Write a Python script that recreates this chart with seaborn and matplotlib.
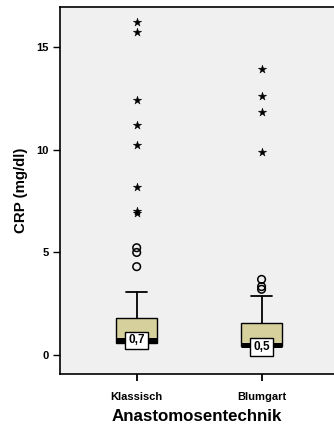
import numpy as np
import pandas as pd
import matplotlib
matplotlib.use("Agg")
import matplotlib.pyplot as plt
import seaborn as sns

# Daten
gruppen = ["Klassisch", "Blumgart"]
median = [0.72, 0.52]
q1 = [0.58, 0.43]
q3 = [1.80, 1.56]
whisker_oben = [3.09, 2.90]
median_text = ["0,7", "0,5"]
median_text_y = [0.72, 0.40]

ausreisser_kreis = {
    "Klassisch": [5.23, 5.00, 4.31],
    "Blumgart": [3.69, 3.34, 3.21],
}
extrem_stern = {
    "Klassisch": [16.22, 15.73, 12.41, 11.20, 10.22, 8.20, 7.03, 6.90],
    "Blumgart": [13.92, 12.61, 11.82, 9.90],
}

sns.set_style("ticks", {"axes.facecolor": "#F0F0F0", "axes.edgecolor": "black",
                        "text.color": "black", "axes.labelcolor": "black",
                        "xtick.color": "black", "ytick.color": "black"})
plt.rcParams["font.family"] = ["Liberation Sans", "DejaVu Sans"]
plt.rcParams["font.weight"] = "bold"

fig = plt.figure(figsize=(3.34, 4.25), dpi=100)
ax = fig.add_axes([60 / 334, 51 / 425, 1 - 60 / 334, 366.7 / 425])

stats = []
for i, g in enumerate(gruppen):
    stats.append({
        "label": g, "med": median[i], "q1": q1[i], "q3": q3[i],
        "whislo": q1[i], "whishi": whisker_oben[i], "fliers": [],
    })

ax.bxp(stats, positions=range(len(gruppen)), widths=0.325, patch_artist=True,
       showfliers=False, capwidths=0.165,
       boxprops=dict(facecolor="#D5D09C", edgecolor="black", linewidth=1.0),
       medianprops=dict(color="black", linewidth=3.6, solid_capstyle="butt"),
       whiskerprops=dict(color="black", linewidth=1.3),
       capprops=dict(color="black", linewidth=1.3))

kreis_df = pd.DataFrame([(gruppen.index(g), v) for g in gruppen for v in ausreisser_kreis[g]],
                        columns=["pos", "crp"])
stern_df = pd.DataFrame([(gruppen.index(g), v) for g in gruppen for v in extrem_stern[g]],
                        columns=["pos", "crp"])

sns.scatterplot(data=kreis_df, x="pos", y="crp", ax=ax, marker="o", s=30,
                facecolor="none", edgecolor="black", linewidth=1.1, zorder=4)
sns.scatterplot(data=stern_df, x="pos", y="crp", ax=ax, marker="*", s=40,
                color="black", edgecolor="black", linewidth=0.3, zorder=4)

for i, t in enumerate(median_text):
    ax.text(i, median_text_y[i], t, ha="center", va="center", fontsize=8.5,
            fontweight="bold", color="black", zorder=6,
            bbox=dict(boxstyle="square,pad=0.25", facecolor="white",
                      edgecolor="black", linewidth=1.0))

ax.set_xlim(-0.614, 1.58)
ax.set_ylim(-0.91, 16.92)
ax.set_xticks(range(len(gruppen)))
ax.set_xticklabels(gruppen, fontsize=8, fontweight="bold")
ax.set_yticks([0, 5, 10, 15])
ax.set_yticklabels(["0", "5", "10", "15"], fontsize=8, fontweight="bold")
ax.tick_params(axis="y", length=5, width=1.0, pad=3, colors="black")
ax.tick_params(axis="x", length=5, width=1.3, pad=8, colors="black")

ax.set_xlabel("Anastomosentechnik", fontsize=12.2, fontweight="bold", labelpad=5, color="black")
ax.set_ylabel("CRP (mg/dl)", fontsize=10.8, fontweight="bold", labelpad=6, color="black")

for s in ["left", "bottom", "top"]:
    ax.spines[s].set_visible(True)
    ax.spines[s].set_linewidth(1.2)
ax.spines["right"].set_visible(False)

fig.savefig("out.png", dpi=100)
